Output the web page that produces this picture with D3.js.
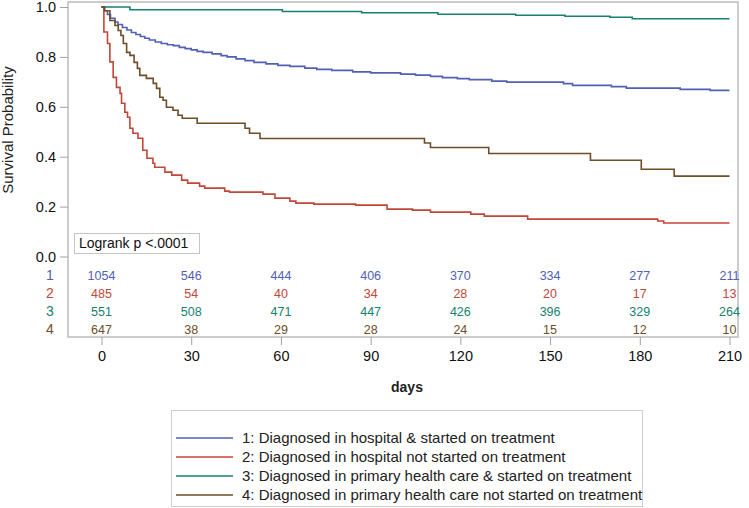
<!DOCTYPE html>
<html>
<head>
<meta charset="utf-8">
<script src="https://cdn.jsdelivr.net/npm/d3@7"></script>
<style>
  html, body { margin: 0; padding: 0; background: #fff; }
  svg { display: block; font-family: "Liberation Sans", Arial, sans-serif; }
</style>
</head>
<body>
<div id="chart"></div>
<script>
// survival curves, [day, probability] at each step
const hospTreated = [[0,1],[1,0.985],[2,0.97],[3,0.955],[4.5,0.94],[5.5,0.93],[7,0.918],[8.5,0.908],[10,0.898],[11.5,0.89],[13,0.882],[14.5,0.875],[16,0.868],[18,0.86],[20,0.854],[22,0.849],[24,0.845],[26,0.838],[28,0.833],[30,0.828],[32,0.822],[34,0.818],[37,0.812],[40,0.805],[42,0.8],[45,0.792],[48,0.785],[51,0.778],[55,0.772],[59,0.766],[63,0.762],[68,0.755],[72,0.75],[77,0.746],[84,0.74],[90,0.736],[100,0.731],[105,0.727],[110,0.722],[114,0.717],[119,0.713],[123,0.709],[130.5,0.703],[135.5,0.699],[154.5,0.693],[157.5,0.686],[170.5,0.681],[175.5,0.675],[193.5,0.67],[203.5,0.666],[210,0.666]];
const hospUntreated = [[0,1],[0.8,0.9],[2,0.854],[2.8,0.78],[3.9,0.718],[5,0.678],[6.2,0.654],[6.7,0.614],[7.8,0.578],[8.7,0.558],[9.5,0.514],[10.5,0.494],[12.2,0.474],[13.8,0.426],[15.2,0.394],[17.2,0.374],[17.8,0.358],[21.2,0.338],[23.5,0.326],[26.8,0.306],[28.8,0.294],[32.8,0.282],[34.5,0.274],[41.2,0.262],[42.8,0.258],[54,0.25],[58,0.234],[63,0.222],[65,0.214],[71,0.21],[85,0.206],[95.5,0.19],[104,0.186],[110,0.178],[123.5,0.17],[128,0.162],[142.5,0.15],[186,0.142],[188,0.134],[210,0.134]];
const phcTreated = [[0,1],[9.5,0.989],[60.5,0.982],[87,0.977],[112.5,0.971],[138.5,0.967],[155,0.963],[170,0.959],[177.5,0.953],[210,0.953]];
const phcUntreated = [[0,1],[1,0.985],[2.8,0.946],[4.5,0.926],[5.6,0.906],[6.5,0.886],[7.3,0.854],[8.4,0.818],[9.5,0.806],[10.9,0.778],[12,0.754],[12.8,0.726],[15,0.714],[17.3,0.694],[18.4,0.674],[19.5,0.638],[20.6,0.626],[21.7,0.598],[23.9,0.586],[25.6,0.566],[27,0.554],[32,0.534],[48,0.514],[49.5,0.494],[53,0.473],[108,0.455],[110,0.437],[129.5,0.413],[163.5,0.386],[180.5,0.35],[191.5,0.322],[210,0.322]];

// numbers at risk
const riskDays = [0, 30, 60, 90, 120, 150, 180, 210];
const atRisk1 = [1054, 546, 444, 406, 370, 334, 277, 211];
const atRisk2 = [485, 54, 40, 34, 28, 20, 17, 13];
const atRisk3 = [551, 508, 471, 447, 426, 396, 329, 264];
const atRisk4 = [647, 38, 29, 28, 24, 15, 12, 10];

const yTicks = [0, 0.2, 0.4, 0.6, 0.8, 1.0];
const groupLabels = [
  "1: Diagnosed in hospital & started on treatment",
  "2: Diagnosed in hospital not started on treatment",
  "3: Diagnosed in primary health care & started on treatment",
  "4: Diagnosed in primary health care not started on treatment"
];

const colors = ["#5061b4", "#c24639", "#17806f", "#6d4e28"];
const curves = [hospTreated, hospUntreated, phcTreated, phcUntreated];
const risks = [atRisk1, atRisk2, atRisk3, atRisk4];

const width = 749, height = 508;
const frame = { left: 68, top: 2, right: 738, bottom: 337 };

const svg = d3.select("#chart").append("svg")
  .attr("width", width)
  .attr("height", height);

const x = d3.scaleLinear().domain([0, 210]).range([101.5, 729.5]);
const y = d3.scaleLinear().domain([0, 1]).range([256.5, 7]);

// plot frame
svg.append("rect")
  .attr("x", frame.left).attr("y", frame.top)
  .attr("width", frame.right - frame.left)
  .attr("height", frame.bottom - frame.top)
  .attr("fill", "none")
  .attr("stroke", "#bcbcbc")
  .attr("stroke-width", 1.5);

// y axis
const yAxis = svg.append("g")
  .attr("transform", `translate(${frame.left},0)`)
  .call(d3.axisLeft(y).tickValues(yTicks).tickFormat(d3.format(".1f")).tickSize(8).tickPadding(4));
yAxis.select(".domain").remove();
yAxis.selectAll(".tick line").attr("stroke", "#a0a0a0");
yAxis.selectAll(".tick text").attr("font-size", 14.5).attr("fill", "#111")
  .style("font-family", "'Liberation Sans', Arial, sans-serif");

// x axis
const xAxis = svg.append("g")
  .attr("transform", `translate(0,${frame.bottom})`)
  .call(d3.axisBottom(x).tickValues(riskDays).tickSize(8).tickPadding(6));
xAxis.select(".domain").remove();
xAxis.selectAll(".tick line").attr("stroke", "#a0a0a0");
xAxis.selectAll(".tick text").attr("font-size", 14.5).attr("fill", "#111")
  .style("font-family", "'Liberation Sans', Arial, sans-serif");

svg.append("text")
  .attr("x", 407).attr("y", 392)
  .attr("text-anchor", "middle")
  .attr("font-size", 14)
  .attr("font-weight", "bold")
  .attr("fill", "#222")
  .text("days");

svg.append("text")
  .attr("transform", "translate(13,130) rotate(-90)")
  .attr("text-anchor", "middle")
  .attr("font-size", 15)
  .attr("fill", "#222")
  .text("Survival Probability");

// curves
const line = d3.line()
  .x(d => x(d[0]))
  .y(d => y(d[1]))
  .curve(d3.curveStepAfter);

svg.append("g").selectAll("path")
  .data(curves)
  .join("path")
  .attr("d", line)
  .attr("fill", "none")
  .attr("stroke", (d, i) => colors[i])
  .attr("stroke-width", 1.6);

// logrank box
svg.append("rect")
  .attr("x", 74.5).attr("y", 233.5)
  .attr("width", 125).attr("height", 20)
  .attr("fill", "#fff")
  .attr("stroke", "#c4c4c4");
svg.append("text")
  .attr("x", 79).attr("y", 248)
  .attr("font-size", 14)
  .attr("fill", "#111")
  .text("Logrank p <.0001");

// at-risk table
const rowY = [275, 293, 311, 329];
risks.forEach((vals, i) => {
  svg.append("text")
    .attr("x", 50).attr("y", rowY[i] + 5)
    .attr("text-anchor", "middle")
    .attr("font-size", 14)
    .attr("fill", colors[i])
    .text(i + 1);
  svg.append("g").selectAll("text")
    .data(vals)
    .join("text")
    .attr("x", (d, j) => x(riskDays[j]))
    .attr("y", rowY[i] + 4.5)
    .attr("text-anchor", "middle")
    .attr("font-size", 12.5)
    .attr("fill", colors[i])
    .text(d => d);
});

// legend
svg.append("rect")
  .attr("x", 171.5).attr("y", 410.5)
  .attr("width", 471).attr("height", 96)
  .attr("fill", "#fff")
  .attr("stroke", "#cfcfcf");

const legendY = [438, 457, 476, 495];
groupLabels.forEach((label, i) => {
  svg.append("line")
    .attr("x1", 176).attr("x2", 233)
    .attr("y1", legendY[i]).attr("y2", legendY[i])
    .attr("stroke", colors[i])
    .attr("stroke-width", 1.3);
  svg.append("text")
    .attr("x", 242).attr("y", legendY[i] + 5)
    .attr("font-size", 15)
    .attr("fill", "#222")
    .text(label);
});
</script>
</body>
</html>
